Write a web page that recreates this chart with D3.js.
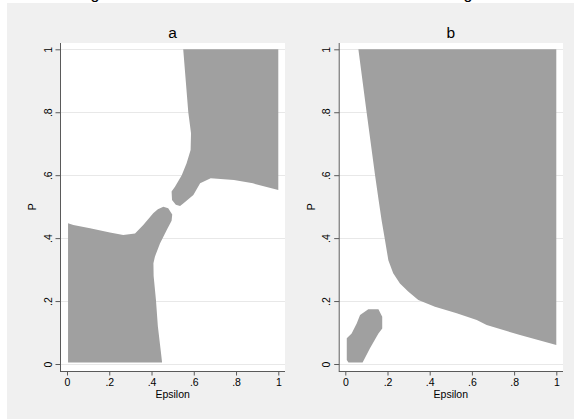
<!DOCTYPE html>
<html>
<head>
<meta charset="utf-8">
<script src="https://cdn.jsdelivr.net/npm/d3@7"></script>
<style>
  body { margin: 0; background: #fff; }
  svg { display: block; font-family: "Liberation Sans", Arial, sans-serif; }
</style>
</head>
<body>
<svg id="chart" width="574" height="419"></svg>
<script>
// Axis ticks
const epsTicks = [0, 0.2, 0.4, 0.6, 0.8, 1];
const pTicks = [0, 0.2, 0.4, 0.6, 0.8, 1];
const tickLabels = ["0", ".2", ".4", ".6", ".8", "1"];
const panelTitles = ["a", "b"];

// Panel a : region en haut a droite  [epsilon, P]
const regionA1 = [
  [0.55, 1], [1, 1], [1, 0.553], [0.88, 0.574], [0.79, 0.585], [0.68, 0.59],
  [0.63, 0.574], [0.598, 0.537], [0.55, 0.51], [0.535, 0.502], [0.515, 0.506],
  [0.497, 0.521], [0.495, 0.548], [0.511, 0.563], [0.543, 0.6], [0.566, 0.638],
  [0.585, 0.68], [0.587, 0.733], [0.574, 0.8], [0.562, 0.9], [0.55, 1]
];
// Panel a : region en bas a gauche
const regionA2 = [
  [0.005, 0.005], [0.45, 0.005], [0.445, 0.034], [0.43, 0.12], [0.421, 0.203],
  [0.41, 0.28], [0.409, 0.32], [0.416, 0.341], [0.44, 0.383], [0.472, 0.426],
  [0.495, 0.455], [0.498, 0.475], [0.479, 0.495], [0.456, 0.5], [0.43, 0.492],
  [0.408, 0.479], [0.361, 0.442], [0.322, 0.415], [0.266, 0.41], [0.203, 0.418],
  [0.109, 0.431], [0.03, 0.442], [0.005, 0.447]
];
// Panel b : grande region
const regionB1 = [
  [0.062, 1], [1, 1], [1, 0.06], [0.828, 0.092], [0.67, 0.124], [0.623, 0.14],
  [0.528, 0.161], [0.425, 0.182], [0.346, 0.203], [0.298, 0.23], [0.259, 0.256],
  [0.227, 0.288], [0.204, 0.33], [0.188, 0.394], [0.172, 0.457], [0.158, 0.52],
  [0.141, 0.6], [0.101, 0.8], [0.062, 1]
];
// Panel b : petite region
const regionB2 = [
  [0.007, 0.082], [0.007, 0.013], [0.015, 0.005], [0.082, 0.005], [0.117, 0.05],
  [0.157, 0.097], [0.175, 0.113], [0.175, 0.15], [0.157, 0.174], [0.109, 0.174],
  [0.07, 0.156], [0.054, 0.129], [0.03, 0.097], [0.007, 0.082]
];

const panels = [
  { title: panelTitles[0], regions: [regionA1, regionA2], box: [60, 285], range: [67, 278.3] },
  { title: panelTitles[1], regions: [regionB1, regionB2], box: [338.7, 563], range: [345.3, 556.3] }
];

const svg = d3.select("#chart");
const fillGrey = "#a0a0a0";
const axisCol = "#5a5a5a";

// fond gris exterieur
svg.append("rect").attr("x", 7).attr("y", 3).attr("width", 567).attr("height", 416).attr("fill", "#f0f0f0");

// bas du titre general coupe
svg.append("text").attr("x", 95).attr("y", -1).attr("text-anchor", "middle")
  .style("font-size", "16px").text("g");
svg.append("text").attr("x", 468).attr("y", -1).attr("text-anchor", "middle")
  .style("font-size", "16px").text("g");

const plotTop = 43, plotBottom = 371;

panels.forEach(p => {
  const x = d3.scaleLinear().domain([0, 1]).range(p.range);
  const y = d3.scaleLinear().domain([0, 1]).range([364, 49.3]);
  const g = svg.append("g");

  // zone de trace
  g.append("rect").attr("x", p.box[0]).attr("y", plotTop)
    .attr("width", p.box[1] - p.box[0]).attr("height", plotBottom - plotTop).attr("fill", "#fff");

  // grille
  g.selectAll(".grid").data(pTicks).enter().append("line")
    .attr("x1", p.box[0]).attr("x2", p.box[1])
    .attr("y1", d => Math.round(y(d)) + 0.5).attr("y2", d => Math.round(y(d)) + 0.5)
    .attr("stroke", "#e8e8e8").attr("stroke-width", 1.2);

  // regions
  const line = d3.line().x(d => x(d[0])).y(d => y(d[1]));
  g.selectAll(".region").data(p.regions).enter().append("path")
    .attr("d", d => line(d) + "Z")
    .attr("fill", fillGrey);

  // axe y
  const yAxis = g.append("g")
    .attr("transform", "translate(" + (p.box[0] + 0.5) + ",0)")
    .call(d3.axisLeft(y).tickValues(pTicks).tickFormat((d, i) => tickLabels[i]).tickSize(5).tickSizeOuter(0));
  yAxis.select(".domain").attr("d", "M0," + plotTop + "V" + plotBottom).attr("stroke", axisCol);
  yAxis.selectAll(".tick line").attr("stroke", axisCol);
  yAxis.selectAll(".tick text")
    .attr("x", 0).attr("dy", null)
    .attr("transform", "translate(-13,0) rotate(-90)")
    .attr("text-anchor", "middle").attr("dominant-baseline", "central")
    .style("font-size", "10.5px").attr("fill", "#000");

  // axe x
  const xAxis = g.append("g")
    .attr("transform", "translate(0," + (plotBottom + 0.5) + ")")
    .call(d3.axisBottom(x).tickValues(epsTicks).tickFormat((d, i) => tickLabels[i]).tickSize(4).tickSizeOuter(0));
  xAxis.select(".domain").attr("d", "M" + p.box[0] + ",0H" + p.box[1]).attr("stroke", axisCol);
  xAxis.selectAll(".tick line").attr("stroke", axisCol);
  xAxis.selectAll(".tick text").attr("y", 7).style("font-size", "10.5px").attr("fill", "#000");

  const cx = (p.range[0] + p.range[1]) / 2;
  // titre du panneau
  g.append("text").attr("x", cx).attr("y", 38).attr("text-anchor", "middle")
    .style("font-size", "15.5px").text(p.title);
  // titres des axes
  g.append("text").attr("x", cx).attr("y", 398).attr("text-anchor", "middle")
    .style("font-size", "10.5px").text("Epsilon");
  g.append("text").attr("transform", "translate(" + (p.box[0] - 24) + ",206.7) rotate(-90)")
    .attr("text-anchor", "middle").style("font-size", "10.5px").text("P");
});
</script>
</body>
</html>
